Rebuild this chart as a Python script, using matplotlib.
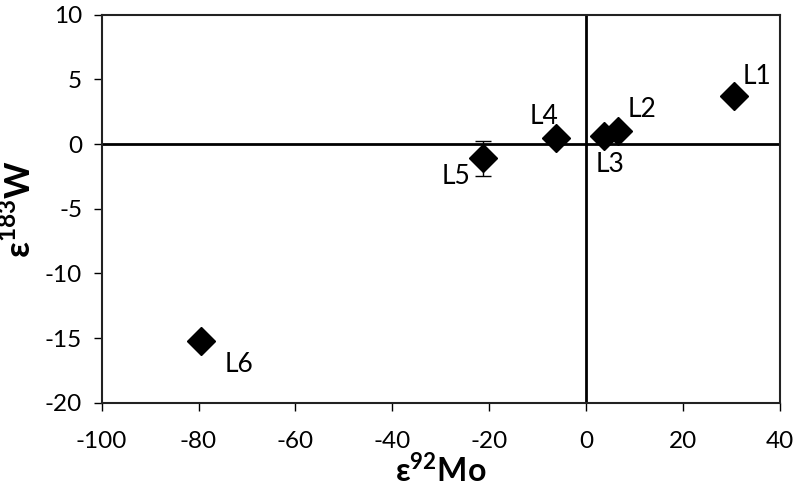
import matplotlib.pyplot as plt

plt.rcParams['font.family'] = ['Lato', 'DejaVu Sans']
plt.rcParams['mathtext.fontset'] = 'custom'
plt.rcParams['mathtext.rm'] = 'Lato'
plt.rcParams['mathtext.bf'] = 'Lato:bold'
plt.rcParams['axes.unicode_minus'] = False

# data
labels = ['L1', 'L2', 'L3', 'L4', 'L5', 'L6']
eps_mo = [30.5, 6.6, 3.7, -6.3, -21.3, -79.4]
eps_w = [3.7, 1.05, 0.6, 0.45, -1.1, -15.2]
w_err = [0, 0, 0, 0, 1.35, 0]

# label offsets in points (dx, dy) from the point
label_offsets = [(6, 14), (7, 15), (-6, -20), (-19, 16), (-30, -13), (17, -17)]

fig = plt.figure(figsize=(8, 4.93), dpi=100)
ax = fig.add_axes([0.127, 0.183, 0.848, 0.787])

ax.axhline(0, color='black', lw=2, zorder=1)
ax.axvline(0, color='black', lw=2, zorder=1)

ax.errorbar(eps_mo, eps_w, yerr=w_err, fmt='D', color='black', ms=14.5,
            ecolor='black', elinewidth=1, capsize=6, capthick=1, zorder=3)

for lab, x, y, off in zip(labels, eps_mo, eps_w, label_offsets):
    ax.annotate(lab, (x, y), xytext=off, textcoords='offset points',
                fontsize=19, ha='left', va='center')

ax.set_xlim(-100, 40)
ax.set_ylim(-20, 10)
ax.set_xticks(range(-100, 41, 20))
ax.set_yticks(range(-20, 11, 5))
ax.tick_params(direction='out', length=6, width=1, labelsize=17.5)
ax.tick_params(axis='x', pad=14)
ax.tick_params(axis='y', pad=8)

for s in ax.spines.values():
    s.set_linewidth(1.5)
    s.set_color('#222222')

ax.set_xlabel(r'ε$^{\mathbf{92}}$Mo', fontsize=23, fontweight='bold', labelpad=1)
ax.set_ylabel(r'ε$^{\mathbf{183}}$W', fontsize=25, fontweight='bold', labelpad=6)

fig.savefig('out.png', dpi=100)
